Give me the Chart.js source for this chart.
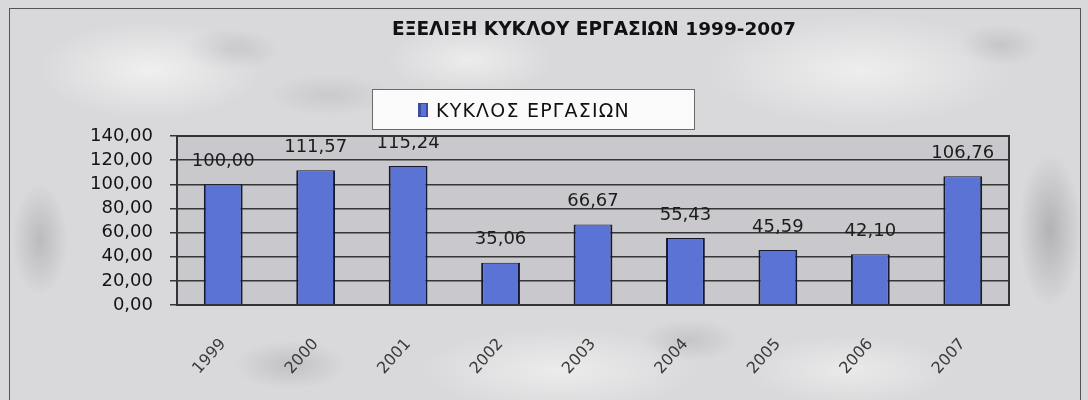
<!DOCTYPE html>
<html>
<head>
<meta charset="utf-8">
<script src="https://cdn.jsdelivr.net/npm/chart.js@4.4.1/dist/chart.umd.min.js"></script>
<style>
  html, body { margin: 0; padding: 0; }
  body {
    width: 1088px; height: 400px; overflow: hidden; position: relative;
    background:
      radial-gradient(ellipse 160px 70px at 150px 70px, rgba(255,255,255,0.6), rgba(255,255,255,0) 70%),
      radial-gradient(ellipse 220px 80px at 860px 70px, rgba(255,255,255,0.55), rgba(255,255,255,0) 70%),
      radial-gradient(ellipse 120px 50px at 470px 60px, rgba(255,255,255,0.5), rgba(255,255,255,0) 70%),
      radial-gradient(ellipse 200px 60px at 560px 370px, rgba(255,255,255,0.5), rgba(255,255,255,0) 70%),
      radial-gradient(ellipse 150px 50px at 850px 370px, rgba(255,255,255,0.45), rgba(255,255,255,0) 70%),
      radial-gradient(ellipse 45px 110px at 1050px 230px, rgba(120,120,125,0.4), rgba(120,120,125,0) 70%),
      radial-gradient(ellipse 40px 80px at 40px 240px, rgba(130,130,135,0.35), rgba(130,130,135,0) 70%),
      radial-gradient(ellipse 80px 35px at 290px 365px, rgba(140,140,145,0.3), rgba(140,140,145,0) 70%),
      radial-gradient(ellipse 70px 30px at 690px 340px, rgba(140,140,145,0.25), rgba(140,140,145,0) 70%),
      radial-gradient(ellipse 70px 30px at 230px 50px, rgba(140,140,145,0.25), rgba(140,140,145,0) 70%),
      radial-gradient(ellipse 90px 30px at 330px 95px, rgba(140,140,145,0.2), rgba(140,140,145,0) 70%),
      radial-gradient(ellipse 60px 30px at 1000px 45px, rgba(140,140,145,0.25), rgba(140,140,145,0) 70%),
      #d9d9db;
  }
  #frame {
    position: absolute; left: 9px; top: 8px; width: 1072px; height: 400px;
    border: 1.5px solid #555; box-sizing: border-box;
  }
  #wrap { position: absolute; left: 0; top: 0; width: 1088px; height: 400px; }
</style>
</head>
<body>
<div id="frame"></div>
<div id="wrap"><canvas id="c" width="1088" height="400"></canvas></div>
<script>
// Turnover index by year
const chartTitle = 'ΕΞΕΛΙΞΗ ΚΥΚΛΟΥ ΕΡΓΑΣΙΩΝ 1999-2007';
const seriesName = 'ΚΥΚΛΟΣ ΕΡΓΑΣΙΩΝ';
const years = ['1999', '2000', '2001', '2002', '2003', '2004', '2005', '2006', '2007'];
const turnover = [100.00, 111.57, 115.24, 35.06, 66.67, 55.43, 45.59, 42.10, 106.76];
const yMin = 0, yMax = 140, yStep = 20;

// Greek-style number format: two decimals, comma separator
const fmt = v => Number(v).toFixed(2).replace('.', ',');

const BAR_BLUE = '#5b73d5';
const NUM_FONT = '18px "DejaVu Sans"';

// Grey fill behind the plotting area
const plotBackground = {
  id: 'plotBackground',
  beforeDraw(chart) {
    const { ctx, chartArea: a } = chart;
    ctx.save();
    ctx.fillStyle = '#c9c9cd';
    ctx.fillRect(a.left, a.top, a.right - a.left, a.bottom - a.top);
    ctx.restore();
  }
};

// Value labels above each bar, then the frame round the plot
const valueLabels = {
  id: 'valueLabels',
  afterDatasetsDraw(chart) {
    const { ctx, chartArea: a } = chart;
    const meta = chart.getDatasetMeta(0);
    const values = chart.data.datasets[0].data;
    ctx.save();
    ctx.font = NUM_FONT;
    ctx.fillStyle = '#1c1c1c';
    ctx.textAlign = 'center';
    ctx.textBaseline = 'middle';
    meta.data.forEach((bar, i) => {
      ctx.fillText(fmt(values[i]), bar.x, bar.y - 23);
    });
    ctx.strokeStyle = '#333';
    ctx.lineWidth = 2;
    ctx.strokeRect(a.left, a.top, a.right - a.left, a.bottom - a.top);
    ctx.restore();
  }
};

// Title and boxed legend above the plot
const header = {
  id: 'header',
  afterDraw(chart) {
    const { ctx } = chart;
    const ds = chart.data.datasets[0];
    ctx.save();
    ctx.font = 'bold 18.5px "DejaVu Sans"';
    ctx.fillStyle = '#111';
    ctx.textAlign = 'center';
    ctx.textBaseline = 'alphabetic';
    ctx.fillText(chartTitle, 594, 35);

    // legend box
    ctx.fillStyle = '#fbfbfb';
    ctx.fillRect(372, 89, 323, 41);
    ctx.strokeStyle = '#6a6a6a';
    ctx.lineWidth = 1;
    ctx.strokeRect(372.5, 89.5, 322, 40);
    // marker
    ctx.fillStyle = '#3d4c9e';
    ctx.fillRect(418, 103, 10, 14);
    ctx.fillStyle = ds.backgroundColor;
    ctx.fillRect(421, 104, 5, 12);
    // label
    ctx.font = '19px "DejaVu Sans"';
    ctx.letterSpacing = '1.2px';
    ctx.fillStyle = '#111';
    ctx.textAlign = 'left';
    ctx.fillText(ds.label, 436, 117);
    ctx.restore();
  }
};

new Chart(document.getElementById('c'), {
  type: 'bar',
  data: {
    labels: years,
    datasets: [{
      label: seriesName,
      data: turnover,
      backgroundColor: BAR_BLUE,
      borderColor: '#161a2e',
      borderWidth: { left: 2, right: 2, top: 1, bottom: 0 },
      borderSkipped: 'bottom',
      categoryPercentage: 1,
      barPercentage: 0.42
    }]
  },
  options: {
    responsive: false,
    animation: false,
    devicePixelRatio: 1,
    layout: { padding: { top: 136, right: 79, bottom: 0, left: 0 } },
    plugins: {
      legend: { display: false },
      title: { display: false },
      tooltip: { enabled: false }
    },
    scales: {
      x: {
        grid: { display: false },
        border: { display: true, color: '#222', width: 2 },
        ticks: {
          minRotation: 48, maxRotation: 48,
          padding: 22,
          color: '#3a3a3a',
          font: { family: 'DejaVu Sans', size: 16 }
        },
        afterFit(s) { s.height = 95; }
      },
      y: {
        min: yMin, max: yMax,
        ticks: {
          stepSize: yStep,
          autoSkip: false,
          callback: v => fmt(v),
          padding: 17,
          color: '#141414',
          font: { family: 'DejaVu Sans', size: 18 }
        },
        grid: { color: '#353535', lineWidth: 1.5, tickLength: 7 },
        border: { color: '#222', width: 2 },
        afterFit(s) { s.width = 177; }
      }
    }
  },
  plugins: [plotBackground, valueLabels, header]
});
</script>
</body>
</html>
